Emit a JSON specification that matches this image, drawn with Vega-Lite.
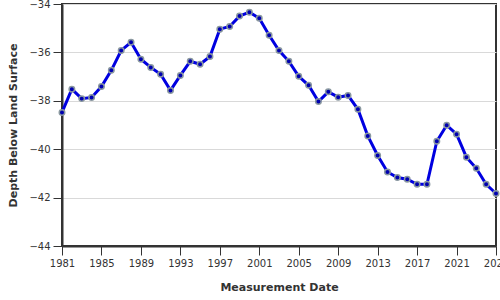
{
  "$schema": "https://vega.github.io/schema/vega-lite/v6.json",
  "width": 434,
  "height": 242,
  "autosize": {"type": "none"},
  "padding": {"left": 62, "top": 4, "right": 4, "bottom": 54},
  "background": "white",
  "config": {
    "view": {"stroke": "#333333", "strokeWidth": 2},
    "font": "DejaVu Sans",
    "axis": {
      "labelFont": "DejaVu Sans",
      "labelFontSize": 10,
      "labelColor": "#333333",
      "titleFont": "DejaVu Sans",
      "titleFontSize": 11,
      "titleFontWeight": "bold",
      "titleColor": "#333333",
      "domainColor": "#333333",
      "domainWidth": 2,
      "tickColor": "#333333",
      "tickSize": 9,
      "gridColor": "#d9d9d9"
    }
  },
  "data": {
    "values": [
      {"year": 1981, "depth": -38.48},
      {"year": 1982, "depth": -37.52},
      {"year": 1983, "depth": -37.91},
      {"year": 1984, "depth": -37.86},
      {"year": 1985, "depth": -37.41},
      {"year": 1986, "depth": -36.74},
      {"year": 1987, "depth": -35.92},
      {"year": 1988, "depth": -35.58},
      {"year": 1989, "depth": -36.28},
      {"year": 1990, "depth": -36.62},
      {"year": 1991, "depth": -36.90},
      {"year": 1992, "depth": -37.57},
      {"year": 1993, "depth": -36.95},
      {"year": 1994, "depth": -36.37},
      {"year": 1995, "depth": -36.49},
      {"year": 1996, "depth": -36.17},
      {"year": 1997, "depth": -35.04},
      {"year": 1998, "depth": -34.93},
      {"year": 1999, "depth": -34.50},
      {"year": 2000, "depth": -34.34},
      {"year": 2001, "depth": -34.59},
      {"year": 2002, "depth": -35.29},
      {"year": 2003, "depth": -35.92},
      {"year": 2004, "depth": -36.37},
      {"year": 2005, "depth": -36.99},
      {"year": 2006, "depth": -37.36},
      {"year": 2007, "depth": -38.03},
      {"year": 2008, "depth": -37.63},
      {"year": 2009, "depth": -37.85},
      {"year": 2010, "depth": -37.78},
      {"year": 2011, "depth": -38.35},
      {"year": 2012, "depth": -39.45},
      {"year": 2013, "depth": -40.26},
      {"year": 2014, "depth": -40.94},
      {"year": 2015, "depth": -41.17},
      {"year": 2016, "depth": -41.24},
      {"year": 2017, "depth": -41.45},
      {"year": 2018, "depth": -41.45},
      {"year": 2019, "depth": -39.67},
      {"year": 2020, "depth": -39.01},
      {"year": 2021, "depth": -39.38},
      {"year": 2022, "depth": -40.33},
      {"year": 2023, "depth": -40.79},
      {"year": 2024, "depth": -41.45},
      {"year": 2025, "depth": -41.83}
    ]
  },
  "encoding": {
    "x": {
      "field": "year",
      "type": "quantitative",
      "title": "Measurement Date",
      "scale": {"domain": [1981, 2025], "nice": false, "zero": false},
      "axis": {
        "values": [1981, 1985, 1989, 1993, 1997, 2001, 2005, 2009, 2013, 2017, 2021, 2025],
        "format": "d",
        "grid": false,
        "labelPadding": 3,
        "titlePadding": 13,
        "labelFlush": false
      }
    },
    "y": {
      "field": "depth",
      "type": "quantitative",
      "title": "Depth Below Land Surface",
      "scale": {"domain": [-44, -34], "nice": false, "zero": false},
      "axis": {
        "values": [-44, -42, -40, -38, -36, -34],
        "grid": true,
        "labelPadding": 3,
        "titlePadding": 10
      }
    }
  },
  "layer": [
    {
      "mark": {"type": "line", "color": "#0000e0", "strokeWidth": 3}
    },
    {
      "mark": {"type": "point", "filled": true, "shape": "circle", "size": 30, "fill": "#0000b0", "stroke": "#8a98a0", "strokeWidth": 1.5, "opacity": 1}
    }
  ]
}
